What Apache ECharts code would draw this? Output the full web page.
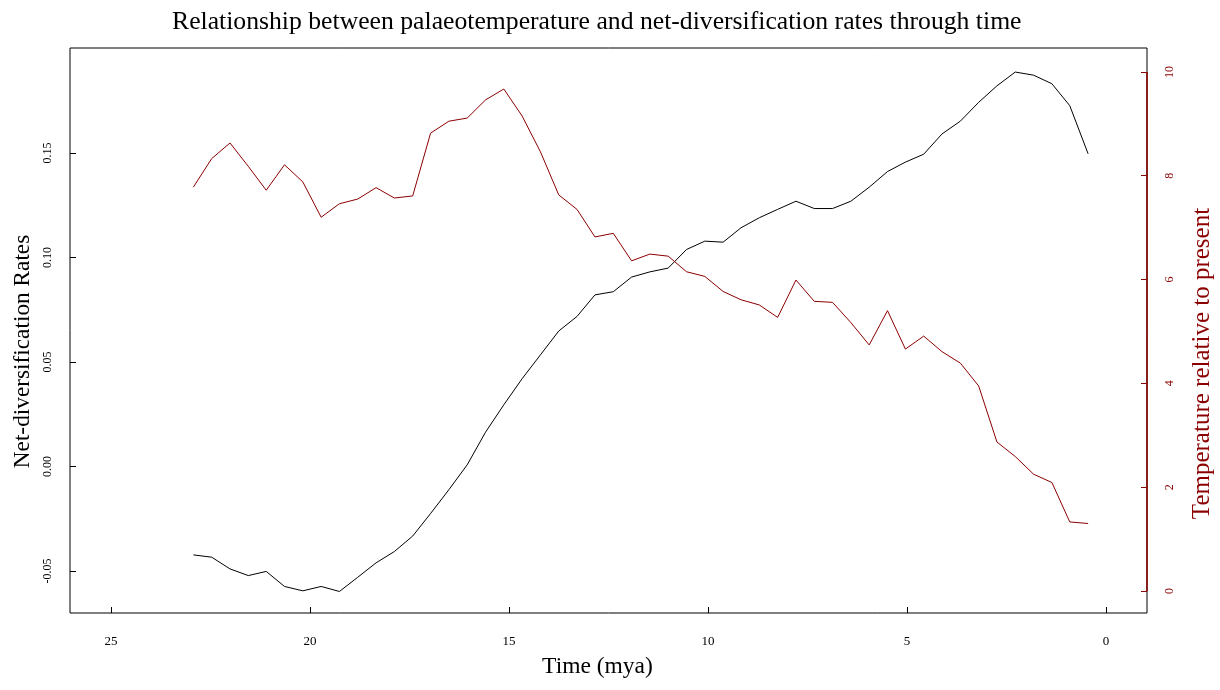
<!DOCTYPE html>
<html style="height: 100%">
<head>
    <meta charset="utf-8">
</head>
<body style="height: 100%; margin: 0; background: #fff">
<div id="container" style="width: 1220px; height: 690px"></div>

<script type="text/javascript" src="https://cdn.jsdelivr.net/npm/echarts@6/dist/echarts.min.js"></script>
<script type="text/javascript">
    // time points (million years ago)
    var timeMya = [22.93, 22.47, 22.01, 21.55, 21.10, 20.64, 20.18, 19.72, 19.26, 18.80,
        18.34, 17.88, 17.42, 16.97, 16.51, 16.05, 15.59, 15.13, 14.67, 14.21,
        13.75, 13.29, 12.84, 12.38, 11.92, 11.46, 11.00, 10.54, 10.08, 9.62,
        9.17, 8.71, 8.25, 7.79, 7.33, 6.87, 6.41, 5.95, 5.49, 5.04,
        4.58, 4.12, 3.66, 3.20, 2.74, 2.28, 1.82, 1.36, 0.91, 0.45];

    // net-diversification rates (left axis)
    var netDiv = [-0.0423, -0.0434, -0.0490, -0.0522, -0.0502, -0.0574, -0.0595, -0.0574, -0.0598, -0.0530,
        -0.0461, -0.0407, -0.0333, -0.0225, -0.0111, 0.0008, 0.0164, 0.0295, 0.0420, 0.0534,
        0.0648, 0.0718, 0.0821, 0.0836, 0.0906, 0.0931, 0.0949, 0.1038, 0.1078, 0.1073,
        0.1142, 0.1190, 0.1230, 0.1269, 0.1234, 0.1234, 0.1269, 0.1336, 0.1411, 0.1456,
        0.1494, 0.1591, 0.1652, 0.1742, 0.1821, 0.1887, 0.1872, 0.1831, 0.1726, 0.1496];

    // temperature relative to present (right axis)
    var temperature = [7.78, 8.33, 8.63, 8.18, 7.72, 8.21, 7.88, 7.20, 7.46, 7.55,
        7.77, 7.57, 7.61, 8.82, 9.05, 9.11, 9.46, 9.67, 9.15, 8.46,
        7.63, 7.35, 6.82, 6.89, 6.36, 6.49, 6.45, 6.15, 6.06, 5.77,
        5.61, 5.51, 5.27, 5.99, 5.58, 5.56, 5.17, 4.74, 5.40, 4.66,
        4.91, 4.61, 4.39, 3.95, 2.87, 2.59, 2.25, 2.09, 1.33, 1.30];

    // tick labels
    var xTicks = [25, 20, 15, 10, 5, 0];
    var leftTicks = [-0.05, 0, 0.05, 0.10, 0.15];
    var rightTicks = [0, 2, 4, 6, 8, 10];

    var serif = '"Liberation Serif", "DejaVu Serif", serif';
    var darkred = '#8B0000';
    var xMin = -1.03, xMax = 26.03;

    var myChart = echarts.init(document.getElementById("container"));

    // ticks only show up here when drawn inside the box, so they point inward
    var option = {
        animation: false,
        backgroundColor: '#fff',
        title: {
            text: 'Relationship between palaeotemperature and net-diversification rates through time',
            left: 167, top: 4,
            textStyle: {fontFamily: serif, fontSize: 25.7, fontWeight: 'normal', color: '#000'}
        },
        grid: {
            left: 70, right: 73, top: 48, bottom: 77,
            outerBoundsMode: 'none',
            show: true, borderColor: '#000', borderWidth: 1, backgroundColor: 'transparent'
        },
        xAxis: {
            type: 'value', inverse: true, min: xMin, max: xMax,
            name: 'Time (mya)', nameLocation: 'middle', nameGap: 42,
            nameTextStyle: {fontFamily: serif, fontSize: 23.5, color: '#000', padding: [0, 22, 0, 0]},
            axisLine: {show: false, onZero: false},
            axisTick: {show: true, inside: true, length: 6, lineStyle: {color: '#000', width: 1}, customValues: xTicks},
            axisLabel: {fontFamily: serif, fontSize: 13, color: '#000', margin: 22, customValues: xTicks},
            splitLine: {show: false}
        },
        yAxis: [{
            type: 'value', min: -0.0701, max: 0.2002,
            name: 'Net-diversification Rates', nameLocation: 'middle', nameGap: 35,
            nameTextStyle: {fontFamily: serif, fontSize: 23.3, color: '#000', padding: [0, 42, 0, 0]},
            axisLine: {show: false, onZero: false},
            axisTick: {show: true, inside: true, length: 6, lineStyle: {color: '#000', width: 1}, customValues: leftTicks},
            axisLabel: {
                fontFamily: serif, fontSize: 12, color: '#000', margin: 16, rotate: 90,
                customValues: leftTicks,
                formatter: function (v) { return v.toFixed(2); }
            },
            splitLine: {show: false}
        }, {
            type: 'value', position: 'right', min: -0.424, max: 10.46,
            name: 'Temperature relative to present', nameLocation: 'middle', nameGap: 43,
            nameTextStyle: {fontFamily: serif, fontSize: 25, color: darkred, padding: [0, 66, 0, 0]},
            axisLine: {show: false, onZero: false},
            axisTick: {show: true, inside: true, length: 6, lineStyle: {color: darkred, width: 1}, customValues: rightTicks},
            axisLabel: {fontFamily: serif, fontSize: 12, color: darkred, margin: 17, rotate: 90, customValues: rightTicks},
            splitLine: {show: false}
        }],
        series: [{
            name: 'Net-diversification',
            type: 'line', showSymbol: false,
            data: timeMya.map(function (t, i) { return [t, netDiv[i]]; }),
            lineStyle: {color: '#000', width: 1}, itemStyle: {color: '#000'}
        }, {
            name: 'Temperature',
            type: 'line', yAxisIndex: 1, showSymbol: false,
            data: timeMya.map(function (t, i) { return [t, temperature[i]]; }),
            lineStyle: {color: darkred, width: 1}, itemStyle: {color: darkred},
            // red axis line on the right, only from 0 to 10 like R's axis()
            markLine: {
                silent: true, symbol: ['none', 'none'], label: {show: false},
                lineStyle: {color: darkred, type: 'solid', width: 1.5},
                data: [[{coord: [xMin, 0]}, {coord: [xMin, 10]}]]
            }
        }]
    };
    myChart.setOption(option);
</script>
</body>
</html>
